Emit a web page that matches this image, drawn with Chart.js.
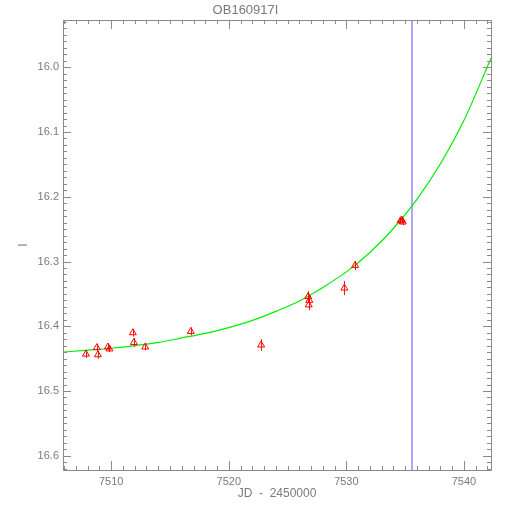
<!DOCTYPE html>
<html>
<head>
<meta charset="utf-8">
<script src="https://cdn.jsdelivr.net/npm/chart.js@4.4.1/dist/chart.umd.min.js"></script>
<style>
  html, body { margin: 0; padding: 0; background: #fff; }
</style>
</head>
<body>
<canvas id="myChart" width="510" height="510"></canvas>
<script>
// Osservazioni (JD - 2450000, magnitudine I, errore)
const obsJD  = [7507.85, 7508.78, 7508.87, 7509.72, 7509.85, 7511.84, 7511.93, 7512.89, 7516.77, 7522.75, 7526.75, 7526.85, 7526.80, 7529.83, 7530.74, 7534.60, 7534.72, 7534.80];
const obsMag = [16.443, 16.433, 16.444, 16.432, 16.435, 16.410, 16.425, 16.432, 16.408, 16.429, 16.354, 16.360, 16.367, 16.341, 16.306, 16.237, 16.236, 16.239];
const obsErr = [0.006, 0.006, 0.006, 0.005, 0.005, 0.006, 0.007, 0.005, 0.006, 0.009, 0.008, 0.008, 0.008, 0.011, 0.007, 0.005, 0.005, 0.005];

// Curva del modello
const modelJD  = [7505.9, 7508, 7510, 7512, 7514, 7516, 7518, 7520, 7522, 7524, 7526, 7528, 7530, 7532, 7534, 7536, 7538, 7540, 7542.3];
const modelMag = [16.440, 16.437, 16.434, 16.430, 16.425, 16.418, 16.411, 16.402, 16.391, 16.377, 16.361, 16.340, 16.316, 16.286, 16.249, 16.204, 16.149, 16.082, 15.986];

// Linea verticale blu
const markerJD = 7535.58;

// Assi
const xRange = [7505.9, 7542.3];
const yRange = [15.927, 16.622];
const xTicks = [7510, 7520, 7530, 7540];
const yTicks = [16.0, 16.1, 16.2, 16.3, 16.4, 16.5, 16.6];

const AXIS_COLOR = '#8a8a8a';
const TEXT_COLOR = '#7a7a7a';
const FONT = 'Liberation Sans';

// Cornice con tacche interne stile IDL
const framePlugin = {
  id: 'frame',
  afterDatasetsDraw(chart) {
    const { ctx, chartArea: a, scales: { x, y } } = chart;
    ctx.save();
    ctx.strokeStyle = AXIS_COLOR;
    ctx.lineWidth = 1;
    ctx.beginPath();
    ctx.rect(Math.round(a.left) + 0.5, Math.round(a.top) + 0.5, Math.round(a.right - a.left), Math.round(a.bottom - a.top));
    const isMajor = (v, list) => list.some(t => Math.abs(t - v) < 1e-6);
    for (let v = Math.ceil(xRange[0]); v <= xRange[1]; v++) {
      const px = Math.round(x.getPixelForValue(v)) + 0.5;
      const len = isMajor(v, xTicks) ? 9 : 4;
      ctx.moveTo(px, a.bottom); ctx.lineTo(px, a.bottom - len);
      ctx.moveTo(px, a.top); ctx.lineTo(px, a.top + len);
    }
    for (let i = Math.ceil(yRange[0] * 100); i <= yRange[1] * 100; i++) {
      const v = i / 100;
      const py = Math.round(y.getPixelForValue(v)) + 0.5;
      const len = isMajor(v, yTicks) ? 8 : 4;
      ctx.moveTo(a.left, py); ctx.lineTo(a.left + len, py);
      ctx.moveTo(a.right, py); ctx.lineTo(a.right - len, py);
    }
    ctx.stroke();
    ctx.restore();
  }
};

// Barre d'errore verticali
const errorBarPlugin = {
  id: 'errorBars',
  afterDatasetsDraw(chart) {
    const { ctx, scales: { x, y } } = chart;
    ctx.save();
    ctx.strokeStyle = 'rgba(255, 0, 0, 0.9)';
    ctx.lineWidth = 1;
    ctx.beginPath();
    obsJD.forEach((jd, i) => {
      const px = Math.round(x.getPixelForValue(jd)) + 0.5;
      ctx.moveTo(px, y.getPixelForValue(obsMag[i] - obsErr[i]));
      ctx.lineTo(px, y.getPixelForValue(obsMag[i] + obsErr[i]));
    });
    ctx.stroke();
    ctx.restore();
  }
};

new Chart('myChart', {
  type: 'scatter',
  data: {
    datasets: [{
      label: 'dati',
      data: obsJD.map((jd, i) => ({ x: jd, y: obsMag[i] })),
      pointStyle: 'triangle',
      pointRadius: 4,
      backgroundColor: 'rgba(0, 0, 0, 0)',
      borderColor: '#ff0000',
      borderWidth: 1,
      order: 1,
    }, {
      label: 'modello',
      data: modelJD.map((jd, i) => ({ x: jd, y: modelMag[i] })),
      showLine: true,
      pointRadius: 0,
      borderColor: '#00ee00',
      borderWidth: 1.2,
      cubicInterpolationMode: 'monotone',
      order: 2,
    }, {
      label: 'oggi',
      data: [{ x: markerJD, y: yRange[0] }, { x: markerJD, y: yRange[1] }],
      showLine: true,
      pointRadius: 0,
      borderColor: '#9c9cff',
      borderWidth: 1,
      order: 3,
    }],
  },
  options: {
    responsive: false,
    animation: false,
    layout: { padding: { right: 19 } },
    plugins: {
      legend: { display: false },
      tooltip: { enabled: false },
      title: {
        display: true,
        text: 'OB160917I',
        color: TEXT_COLOR,
        font: { family: FONT, size: 13, weight: 'normal', lineHeight: 1.2 },
        padding: { top: 2.5, bottom: 1.9 },
      },
    },
    scales: {
      x: {
        type: 'linear',
        min: xRange[0],
        max: xRange[1],
        afterBuildTicks: s => { s.ticks = xTicks.map(v => ({ value: v })); },
        afterFit: s => { s.height = 40; },
        ticks: {
          color: TEXT_COLOR,
          font: { family: FONT, size: 11 },
          padding: 5,
          maxRotation: 0,
          autoSkip: false,
          callback: v => String(v),
        },
        grid: { display: false, drawTicks: false },
        border: { display: false },
        title: {
          display: true,
          text: 'JD  -  2450000',
          color: TEXT_COLOR,
          font: { family: FONT, size: 12 },
          padding: { top: 0, bottom: 9 },
        },
      },
      y: {
        type: 'linear',
        reverse: true,
        min: yRange[0],
        max: yRange[1],
        afterBuildTicks: s => { s.ticks = yTicks.map(v => ({ value: v })); },
        afterFit: s => { s.width = 63; },
        ticks: {
          color: TEXT_COLOR,
          font: { family: FONT, size: 11 },
          padding: 4,
          callback: v => v.toFixed(1),
        },
        grid: { display: false, drawTicks: false },
        border: { display: false },
        title: {
          display: true,
          text: 'I',
          color: TEXT_COLOR,
          font: { family: FONT, size: 12 },
          padding: { top: 16, bottom: 0 },
        },
      },
    },
  },
  plugins: [framePlugin, errorBarPlugin],
});
</script>
</body>
</html>
